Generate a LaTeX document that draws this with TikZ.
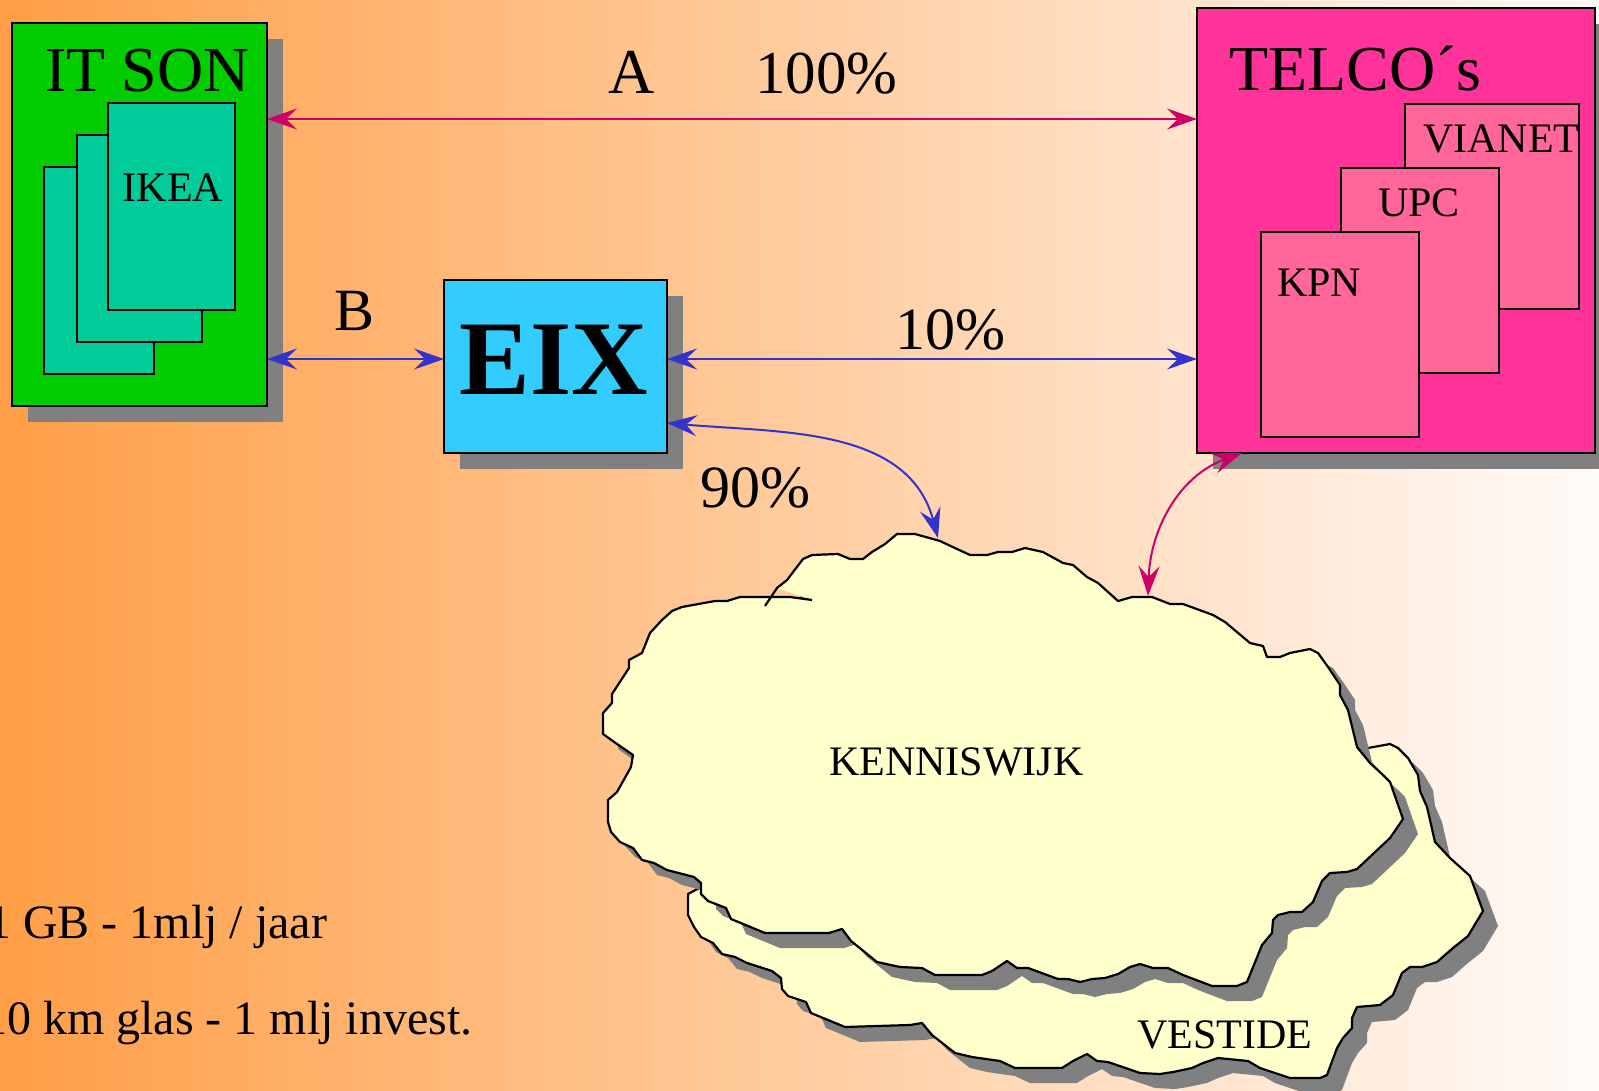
\documentclass[tikz,border=0pt]{standalone}
\usepackage{fontspec}
\setmainfont{Liberation Serif}
\usetikzlibrary{arrows.meta,shadows,calc}
\definecolor{bgL}{HTML}{FF9E46}
\definecolor{bgR}{HTML}{FFFBF9}
\definecolor{itgreen}{HTML}{00CC00}
\definecolor{ikeafill}{HTML}{00CC99}
\definecolor{telcofill}{HTML}{FF3399}
\definecolor{cardfill}{HTML}{FF6699}
\definecolor{eixfill}{HTML}{33CCFF}
\definecolor{cloudfill}{HTML}{FFFFCC}
\definecolor{shadowgray}{HTML}{808080}
\definecolor{linkred}{HTML}{CC0066}
\definecolor{linkblue}{HTML}{3333CC}
\def\kcloudpts{(812,600) -- (790,597) -- (740,597) -- (727,601) -- (715,601) -- (682,607) -- (672,611) -- (662,620) -- (650,633) -- (642,653) -- (629,660) -- (629,668) -- (612,694) -- (612,703) -- (603,713) -- (603,734) -- (617,744) -- (633,755) -- (631,767) -- (617,792) -- (608,800) -- (608,822) -- (611,832) -- (620,842) -- (633,848) -- (642,860) -- (654,863) -- (667,870) -- (694,877) -- (701,883) -- (701,894) -- (708,901) -- (726,908) -- (731,919) -- (765,933) -- (829,933) -- (842,929) -- (851,941) -- (877,962) -- (900,967) -- (922,968) -- (935,975) -- (982,975) -- (992,971) -- (1007,961) -- (1017,968) -- (1028,968) -- (1058,979) -- (1068,979) -- (1080,982) -- (1092,979) -- (1105,978) -- (1118,974) -- (1130,967) -- (1140,964) -- (1153,968) -- (1168,968) -- (1183,975) -- (1212,986) -- (1237,986) -- (1247,982) -- (1262,945) -- (1272,933) -- (1273,920) -- (1278,915) -- (1290,912) -- (1302,912) -- (1313,902) -- (1322,881) -- (1330,873) -- (1347,872) -- (1357,869) -- (1390,838) -- (1403,819) -- (1390,782) -- (1383,775) -- (1370,763) -- (1357,747) -- (1348,710) -- (1340,695) -- (1340,685) -- (1328,667) -- (1318,653) -- (1310,649) -- (1290,653) -- (1280,657) -- (1267,657) -- (1263,646) -- (1250,643) -- (1225,622) -- (1213,615) -- (1183,604) -- (1170,604) -- (1152,597) -- (1132,597) -- (1118,601) -- (1098,583) -- (1087,577) -- (1073,565) -- (1063,563) -- (1043,552) -- (1025,548) -- (1012,552) -- (998,552) -- (987,555) -- (970,555) -- (957,549) -- (940,541) -- (915,534) -- (897,534) -- (885,544) -- (872,552) -- (863,559) -- (850,559) -- (838,554) -- (812,555) -- (803,559) -- (787,580) -- (777,588)}
\def\vcloudpts{(701,887) -- (688,894) -- (688,915) -- (694,927) -- (701,937) -- (713,943) -- (722,954) -- (735,957) -- (747,963) -- (772,971) -- (781,978) -- (782,989) -- (788,996) -- (806,1002) -- (811,1013) -- (845,1027) -- (910,1025) -- (922,1023) -- (932,1035) -- (955,1053) -- (972,1057) -- (1000,1061) -- (1015,1068) -- (1062,1068) -- (1073,1061) -- (1087,1054) -- (1097,1061) -- (1108,1062) -- (1140,1073) -- (1160,1074) -- (1173,1072) -- (1192,1068) -- (1203,1063) -- (1218,1058) -- (1248,1061) -- (1260,1068) -- (1290,1078) -- (1320,1078) -- (1327,1075) -- (1337,1048) -- (1343,1038) -- (1352,1028) -- (1352,1018) -- (1357,1007) -- (1380,1005) -- (1393,995) -- (1402,973) -- (1410,967) -- (1422,967) -- (1437,962) -- (1453,948) -- (1468,936) -- (1483,911) -- (1470,876) -- (1450,858) -- (1435,842) -- (1427,807) -- (1420,791) -- (1418,775) -- (1408,758) -- (1398,748) -- (1390,744) -- (1368,748) -- (1360,750)}
\begin{document}
\begin{tikzpicture}[x=1pt,y=-1pt,
  box/.style={draw=black, line width=1.9pt, inner sep=0pt, outer sep=0pt, anchor=north west},
  shadowed/.style={drop shadow={shadow xshift=16pt, shadow yshift=-16pt, opacity=1, fill=shadowgray}},
  bigtxt/.style={inner sep=0pt, anchor=base west, font=\fontsize{64}{70}\selectfont},
  midtxt/.style={inner sep=0pt, anchor=base west, font=\fontsize{60}{66}\selectfont},
  smalltxt/.style={inner sep=0pt, anchor=base west, font=\fontsize{42}{48}\selectfont},
  notetxt/.style={inner sep=0pt, anchor=base west, font=\fontsize{48}{54}\selectfont},
  >={Stealth[length=30pt,width=21pt,inset=11pt]},
  linkM/.style={draw=linkred, line width=2pt, <->},
  linkB/.style={draw=linkblue, line width=2pt, <->},
  cloudline/.style={draw=black, line width=2.2pt, line join=round},
]
\useasboundingbox (0,0) rectangle (1599,1091);
\shade[left color=bgL, right color=bgR] (0,0) rectangle (1599,1091);

% clouds
\fill[shadowgray, shift={(15,15)}] \vcloudpts -- (1340,760) -- (1000,850) -- (720,870) -- cycle;
\fill[cloudfill] \vcloudpts -- (1340,760) -- (1000,850) -- (720,870) -- cycle;
\draw[cloudline] \vcloudpts;
\fill[shadowgray, shift={(15,15)}] \kcloudpts -- cycle;
\fill[cloudfill] \kcloudpts -- cycle;
\draw[cloudline] \kcloudpts -- (765,606);
\coordinate (kwA) at (938,538);
\coordinate (kwB) at (1148,596);
\node[smalltxt] (kwlbl) at (829,775) {KENNISWIJK};
\node[smalltxt] (vslbl) at (1137,1048) {VESTIDE};

% IT SON
\node[box, shadowed, fill=itgreen, minimum width=255pt, minimum height=383pt] (itson) at (12,23) {};
\node[box, fill=ikeafill, minimum width=110pt, minimum height=207pt] (ikea1) at (44,167) {};
\node[box, fill=ikeafill, minimum width=125pt, minimum height=207pt] (ikea2) at (77,135) {};
\node[box, fill=ikeafill, minimum width=127pt, minimum height=207pt] (ikea3) at (108,103) {};
\node[bigtxt] (itsonlbl) at (45,92) {IT SON};
\node[smalltxt, anchor=base] (ikealbl) at (173,202) {IKEA};

% TELCO
\node[box, shadowed, fill=telcofill, minimum width=398pt, minimum height=445pt] (telco) at (1197,8) {};
\node[box, fill=cardfill, minimum width=174pt, minimum height=205pt] (vianet) at (1405,104) {};
\node[box, fill=cardfill, minimum width=158pt, minimum height=205pt] (upc) at (1341,168) {};
\node[box, fill=cardfill, minimum width=158pt, minimum height=205pt] (kpn) at (1261,232) {};
\node[bigtxt] (telcolbl) at (1229,91) {TELCO´s};
\node[smalltxt] (vianetlbl) at (1423,153) {VIANET};
\node[smalltxt] (upclbl) at (1378,217) {UPC};
\node[smalltxt] (kpnlbl) at (1277,297) {KPN};

% EIX
\node[box, shadowed, fill=eixfill, minimum width=223pt, minimum height=173pt] (eix) at (444,280) {};
\node[inner sep=0pt, anchor=base, font=\fontsize{106}{110}\selectfont\bfseries] (eixlbl) at (554,394) {EIX};

% connectors
\draw[linkM] ($(itson.north east)+(0,96)$) -- ($(telco.north west)+(0,111)$);
\draw[linkB] ($(itson.north east)+(0,336)$) -- ($(eix.north west)+(0,79)$);
\draw[linkB] ($(eix.north east)+(0,79)$) -- ($(telco.north west)+(0,351)$);
\draw[linkB] ($(eix.north east)+(0,143)$) to[out=-5, in=105] (kwA);
\draw[linkM] ($(telco.south west)+(45,0)$) to[out=200, in=88] (kwB);

% labels
\node[bigtxt] (albl) at (608,94) {A};
\node[bigtxt, font=\fontsize{61}{66}\selectfont] (pct100) at (755,94) {100\%};
\node[midtxt] (blbl) at (334,331) {B};
\node[midtxt] (pct10) at (895,349) {10\%};
\node[midtxt] (pct90) at (700,507) {90\%};
\node[notetxt] (note1) at (-13,938) {1 GB - 1mlj / jaar};
\node[notetxt] (note2) at (-17,1034) {10 km glas - 1 mlj invest.};
\end{tikzpicture}
\end{document}
